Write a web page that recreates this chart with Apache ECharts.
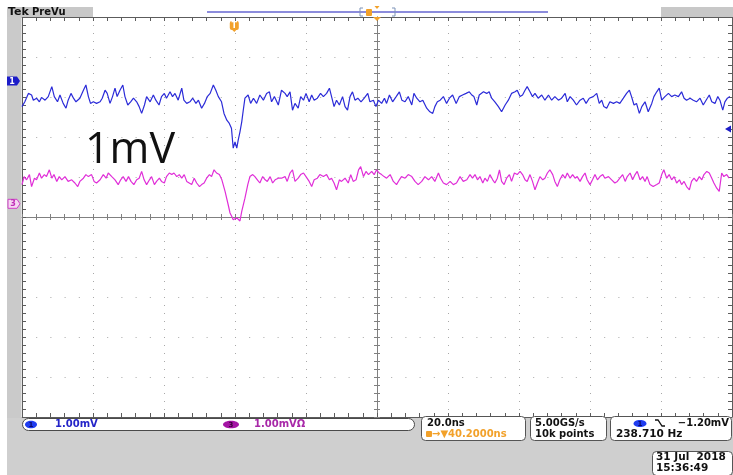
<!DOCTYPE html>
<html><head><meta charset="utf-8">
<script src="https://cdn.jsdelivr.net/npm/echarts@6/dist/echarts.min.js"></script>
<style>html,body{margin:0;padding:0;background:#fff}#c{width:733px;height:475px}</style>
</head><body><div id="c"></div>
<script>
// ---- scope settings ----
const timePerDivNs = 20;
const horizontalDelayNs = 40.2;
const voltsPerDivMv = 1;
const ch1PositionDiv = 3.4;
const ch3PositionDiv = 0.33;
const triggerLevelMv = -1.20;

// ---- channel 1 (blue): [time ns from trigger, mV from ch1 ground] ----
const ch1Samples = [
[-59.8,-0.64],[-59.0,-0.52],[-58.0,-0.31],[-57.1,-0.35],[-56.6,-0.48],[-55.7,-0.43],[-54.9,-0.52],[-54.3,-0.41],
[-53.3,-0.48],[-52.4,-0.39],[-51.4,-0.14],[-50.7,-0.39],[-49.8,-0.52],[-49.1,-0.35],[-48.2,-0.56],[-47.4,-0.68],
[-46.8,-0.48],[-46.0,-0.31],[-45.3,-0.43],[-44.6,-0.52],[-43.5,-0.43],[-42.5,-0.23],[-41.8,-0.10],[-41.1,-0.39],
[-40.5,-0.56],[-39.7,-0.52],[-38.8,-0.56],[-37.8,-0.52],[-37.2,-0.43],[-36.4,-0.23],[-35.8,-0.31],[-35.0,-0.56],
[-34.3,-0.39],[-33.6,-0.18],[-33.0,-0.39],[-32.2,-0.23],[-31.4,-0.10],[-30.8,-0.39],[-30.0,-0.60],[-29.2,-0.52],
[-28.4,-0.43],[-27.5,-0.52],[-26.8,-0.64],[-26.1,-0.81],[-25.3,-0.60],[-24.7,-0.39],[-23.7,-0.52],[-22.8,-0.35],
[-22.1,-0.48],[-21.2,-0.60],[-20.5,-0.39],[-19.7,-0.31],[-19.1,-0.43],[-18.1,-0.27],[-17.4,-0.39],[-16.7,-0.31],
[-15.8,-0.48],[-14.8,-0.18],[-14.2,-0.48],[-13.4,-0.56],[-12.5,-0.52],[-11.7,-0.43],[-10.8,-0.56],[-10.1,-0.48],
[-9.2,-0.68],[-8.4,-0.56],[-7.6,-0.39],[-6.8,-0.31],[-5.9,-0.10],[-5.2,-0.23],[-4.5,-0.39],[-3.6,-0.52],
[-2.9,-0.81],[-2.1,-0.98],[-1.4,-1.06],[-0.8,-1.18],[-0.3,-1.68],[0.2,-1.52],[0.7,-1.68],[1.1,-1.48],
[1.6,-1.27],[2.1,-1.02],[2.5,-0.75],[3.0,-0.43],[3.9,-0.35],[4.6,-0.56],[5.4,-0.43],[6.3,-0.56],
[7.2,-0.35],[8.2,-0.48],[9.1,-0.31],[9.9,-0.27],[10.5,-0.52],[11.3,-0.39],[12.4,-0.60],[13.3,-0.23],
[14.3,-0.31],[14.9,-0.39],[15.7,-0.27],[16.4,-0.73],[17.1,-0.56],[18.0,-0.68],[18.7,-0.39],[19.5,-0.48],
[20.2,-0.31],[21.1,-0.52],[21.8,-0.35],[22.5,-0.48],[23.4,-0.43],[24.3,-0.31],[25.1,-0.39],[26.0,-0.31],
[26.8,-0.18],[27.4,-0.39],[28.1,-0.64],[28.8,-0.48],[29.6,-0.60],[30.5,-0.39],[31.2,-0.64],[31.9,-0.73],
[32.6,-0.39],[33.3,-0.27],[34.0,-0.48],[34.8,-0.43],[35.7,-0.52],[36.6,-0.43],[37.6,-0.31],[38.2,-0.52],
[39.2,-0.48],[39.9,-0.64],[40.6,-0.48],[41.5,-0.56],[42.3,-0.43],[42.9,-0.56],[43.7,-0.35],[44.6,-0.52],
[45.6,-0.39],[46.5,-0.27],[47.2,-0.48],[48.1,-0.52],[49.0,-0.39],[50.0,-0.60],[50.6,-0.31],[51.4,-0.43],
[52.3,-0.52],[53.1,-0.48],[54.2,-0.68],[55.1,-0.77],[55.9,-0.81],[56.5,-0.64],[57.2,-0.52],[58.0,-0.48],
[58.9,-0.39],[59.8,-0.56],[60.6,-0.43],[61.5,-0.35],[62.5,-0.56],[63.4,-0.39],[64.3,-0.35],[65.3,-0.31],
[66.2,-0.27],[66.9,-0.35],[67.5,-0.39],[68.3,-0.60],[69.0,-0.35],[70.2,-0.27],[71.1,-0.31],[71.8,-0.27],
[72.5,-0.43],[73.4,-0.52],[74.4,-0.64],[75.3,-0.77],[76.3,-0.60],[77.2,-0.48],[78.1,-0.31],[79.1,-0.27],
[79.7,-0.23],[80.5,-0.39],[81.2,-0.35],[81.9,-0.23],[82.5,-0.14],[83.3,-0.27],[84.0,-0.39],[84.7,-0.31],
[85.6,-0.43],[86.6,-0.35],[87.5,-0.48],[88.5,-0.35],[89.4,-0.48],[90.3,-0.39],[91.3,-0.48],[92.2,-0.43],
[93.2,-0.31],[93.8,-0.52],[94.6,-0.39],[95.5,-0.48],[96.4,-0.60],[97.4,-0.48],[98.3,-0.43],[99.1,-0.56],
[100.0,-0.43],[101.1,-0.39],[102.1,-0.31],[102.8,-0.56],[103.5,-0.48],[104.1,-0.64],[104.9,-0.68],[105.8,-0.52],
[106.8,-0.56],[107.7,-0.52],[108.6,-0.56],[109.6,-0.43],[110.5,-0.31],[111.3,-0.23],[111.9,-0.39],[112.6,-0.60],
[113.3,-0.56],[114.1,-0.81],[114.8,-0.64],[115.7,-0.52],[116.6,-0.77],[117.6,-0.56],[118.2,-0.39],[119.0,-0.27],
[119.7,-0.18],[120.4,-0.48],[121.3,-0.39],[122.3,-0.31],[123.2,-0.39],[124.1,-0.35],[125.1,-0.39],[126.0,-0.27],
[126.7,-0.43],[127.4,-0.48],[128.4,-0.43],[129.3,-0.48],[130.2,-0.52],[131.2,-0.43],[132.1,-0.60],[132.9,-0.48],
[133.8,-0.35],[134.5,-0.52],[135.4,-0.56],[136.2,-0.39],[136.8,-0.48],[137.6,-0.73],[138.2,-0.52],[138.9,-0.43],
[139.6,-0.39]
];

// ---- channel 3 (magenta): [time ns from trigger, mV from ch3 ground] ----
const ch3Samples = [
[-59.8,0.48],[-59.2,0.68],[-58.5,0.60],[-57.7,0.73],[-57.1,0.43],[-56.3,0.64],[-55.7,0.60],[-54.9,0.77],
[-54.3,0.64],[-53.5,0.73],[-52.9,0.68],[-52.1,0.85],[-51.4,0.64],[-50.8,0.73],[-50.0,0.56],[-49.3,0.68],
[-48.6,0.60],[-47.7,0.68],[-46.8,0.56],[-45.8,0.60],[-44.9,0.52],[-44.1,0.43],[-43.5,0.56],[-42.5,0.64],
[-41.8,0.73],[-41.1,0.68],[-40.2,0.73],[-39.5,0.56],[-38.8,0.52],[-37.8,0.60],[-36.9,0.73],[-36.1,0.64],
[-35.5,0.77],[-34.5,0.68],[-33.6,0.60],[-32.7,0.48],[-32.0,0.60],[-31.3,0.68],[-30.5,0.56],[-29.8,0.68],
[-29.1,0.56],[-28.3,0.48],[-27.5,0.60],[-26.8,0.64],[-26.1,0.81],[-25.4,0.60],[-24.7,0.48],[-23.9,0.60],
[-23.3,0.68],[-22.5,0.48],[-21.9,0.56],[-21.1,0.64],[-20.5,0.56],[-19.7,0.52],[-19.1,0.68],[-18.3,0.77],
[-17.6,0.73],[-17.0,0.77],[-16.2,0.68],[-15.5,0.73],[-14.8,0.64],[-14.1,0.73],[-13.4,0.56],[-12.7,0.52],
[-12.0,0.48],[-11.3,0.64],[-10.6,0.52],[-9.8,0.43],[-9.2,0.48],[-8.5,0.52],[-7.8,0.64],[-7.0,0.73],
[-6.4,0.68],[-5.7,0.85],[-5.0,0.77],[-4.2,0.73],[-3.5,0.60],[-2.6,0.31],[-1.7,-0.03],[-1.2,-0.23],
[-0.7,-0.32],[-0.3,-0.40],[0.2,-0.44],[0.7,-0.35],[1.1,-0.36],[1.6,-0.43],[2.1,-0.19],[3.0,0.14],
[3.8,0.48],[4.4,0.68],[5.2,0.73],[5.8,0.68],[6.5,0.60],[7.2,0.52],[8.0,0.68],[8.7,0.60],
[9.3,0.56],[10.1,0.68],[10.8,0.52],[11.5,0.60],[12.4,0.64],[13.3,0.64],[14.3,0.68],[14.9,0.56],
[15.7,0.77],[16.4,0.85],[17.1,0.56],[18.0,0.64],[18.7,0.73],[19.5,0.77],[20.2,0.68],[21.1,0.56],
[21.8,0.43],[22.5,0.60],[23.4,0.64],[24.1,0.73],[25.1,0.68],[26.0,0.73],[26.8,0.60],[27.4,0.64],
[28.1,0.52],[28.8,0.35],[29.6,0.60],[30.2,0.56],[31.2,0.64],[32.1,0.52],[32.8,0.73],[33.5,0.56],
[34.3,0.60],[35.0,0.85],[35.6,0.93],[36.4,0.68],[37.1,0.81],[37.8,0.73],[38.7,0.81],[39.4,0.73],
[40.1,0.85],[40.8,0.77],[41.5,0.73],[42.2,0.68],[42.9,0.64],[43.9,0.73],[44.8,0.56],[45.7,0.48],
[46.5,0.60],[47.1,0.68],[48.1,0.64],[49.0,0.73],[50.0,0.68],[50.9,0.56],[51.8,0.48],[52.8,0.56],
[53.7,0.68],[54.7,0.60],[55.6,0.68],[56.5,0.56],[57.5,0.77],[58.1,0.64],[58.9,0.52],[59.8,0.48],
[60.8,0.56],[61.7,0.48],[62.6,0.52],[63.6,0.68],[64.5,0.56],[65.5,0.60],[66.4,0.73],[67.1,0.64],
[67.8,0.73],[68.5,0.60],[69.2,0.68],[70.0,0.52],[70.6,0.64],[71.3,0.56],[72.0,0.73],[72.8,0.60],
[73.4,0.52],[74.1,0.64],[74.7,0.85],[75.3,0.56],[76.0,0.48],[76.7,0.64],[77.5,0.73],[78.1,0.56],
[78.9,0.77],[79.7,0.73],[80.5,0.81],[81.2,0.73],[81.9,0.60],[82.5,0.56],[83.3,0.73],[84.0,0.56],
[84.7,0.35],[85.4,0.52],[86.1,0.68],[86.9,0.60],[87.5,0.64],[88.2,0.77],[88.9,0.85],[89.7,0.73],
[90.3,0.56],[91.0,0.43],[91.7,0.60],[92.5,0.73],[93.2,0.64],[93.8,0.77],[94.6,0.64],[95.3,0.73],
[96.0,0.64],[96.6,0.68],[97.4,0.56],[98.1,0.68],[98.8,0.77],[99.4,0.60],[100.2,0.48],[100.9,0.60],
[101.6,0.73],[102.3,0.60],[103.0,0.68],[103.8,0.73],[104.4,0.64],[105.4,0.68],[106.3,0.60],[107.2,0.52],
[107.9,0.56],[108.6,0.64],[109.4,0.73],[110.1,0.56],[110.7,0.68],[111.5,0.77],[112.2,0.60],[112.9,0.73],
[113.5,0.81],[114.3,0.60],[115.0,0.68],[115.7,0.56],[116.3,0.68],[117.1,0.48],[118.0,0.43],[119.0,0.48],
[119.7,0.52],[120.4,0.73],[121.0,0.85],[121.8,0.64],[122.5,0.73],[123.2,0.60],[123.9,0.68],[124.6,0.52],
[125.4,0.60],[126.0,0.48],[126.7,0.56],[127.4,0.43],[128.2,0.35],[128.8,0.56],[129.5,0.64],[130.2,0.56],
[131.0,0.68],[131.7,0.60],[132.3,0.73],[133.1,0.81],[133.8,0.77],[134.5,0.64],[135.1,0.52],[135.9,0.39],
[136.6,0.31],[137.3,0.77],[137.9,0.68],[138.7,0.73],[139.4,0.64]
];

// ---- readout texts ----
const ch1ScaleText = '1.00mV';
const ch3ScaleText = '1.00mVΩ';
const timebaseText = '20.0ns';
const delayText = '→▼40.2000ns';
const sampleRateText = '5.00GS/s';
const recordText = '10k points';
const triggerText = '−1.20mV';
const freqText = '238.710 Hz';
const dateText = '31 Jul  2018';
const clockText = '15:36:49';
const annotationText = '1mV';

// ---- layout ----
const GL = 22, GT = 17, GW = 710, GH = 400;
const DIVS = 10;
const xMin = horizontalDelayNs - (DIVS / 2) * timePerDivNs;
const xMax = horizontalDelayNs + (DIVS / 2) * timePerDivNs;
const frame = '#5c5c5c';
const centerCol = '#808080';
const dotCol = '#a8a8a8';
const F = 'DejaVu Sans, sans-serif';

function hAxis(position, inside, offset, split) {
  return {
    type: 'value', min: xMin, max: xMax, interval: timePerDivNs, position: position, offset: offset,
    axisLine: { show: true, onZero: false, lineStyle: { color: offset ? centerCol : frame, width: 1 } },
    axisTick: { show: true, inside: inside, length: offset ? 3 : 4, lineStyle: { color: offset ? centerCol : frame } },
    minorTick: { show: true, splitNumber: 5, length: offset ? 3 : 4, lineStyle: { color: offset ? centerCol : frame } },
    axisLabel: { show: false },
    splitLine: { show: split, lineStyle: { color: dotCol, type: [1, 7], width: 1 } }
  };
}
function vAxis(position, inside, offset, split) {
  return {
    type: 'value', min: -DIVS / 2, max: DIVS / 2, interval: 1, position: position, offset: offset,
    axisLine: { show: true, onZero: false, lineStyle: { color: offset ? centerCol : frame, width: 1 } },
    axisTick: { show: true, inside: inside, length: offset ? 3 : 4, lineStyle: { color: offset ? centerCol : frame } },
    minorTick: { show: true, splitNumber: 5, length: offset ? 3 : 4, lineStyle: { color: offset ? centerCol : frame } },
    axisLabel: { show: false },
    splitLine: { show: split, lineStyle: { color: dotCol, type: [1, 13.2], width: 1 } }
  };
}
function chAxis(posDiv) {
  return { type: 'value', show: false,
    min: (-DIVS / 2 - posDiv) * voltsPerDivMv, max: (DIVS / 2 - posDiv) * voltsPerDivMv };
}

const chart = echarts.init(document.getElementById('c'), null, { renderer: 'canvas' });
chart.setOption({
  animation: false,
  backgroundColor: '#ffffff',
  grid: { left: GL, top: GT, width: GW, height: GH, containLabel: false },
  xAxis: [
    hAxis('bottom', true, 0, true),
    hAxis('top', true, 0, false),
    hAxis('bottom', true, -GH / 2, false),
    hAxis('bottom', false, -GH / 2, false)
  ],
  yAxis: [
    vAxis('left', true, 0, true),
    vAxis('right', true, 0, false),
    vAxis('left', true, -GW / 2, false),
    vAxis('left', false, -GW / 2, false),
    chAxis(ch1PositionDiv),
    chAxis(ch3PositionDiv)
  ],
  series: [
    { type: 'line', name: 'CH1', xAxisIndex: 0, yAxisIndex: 4, data: ch1Samples,
      symbol: 'none', showSymbol: false, clip: true, z: 5,
      lineStyle: { color: '#2b2bd8', width: 1.2 } },
    { type: 'line', name: 'CH3', xAxisIndex: 0, yAxisIndex: 5, data: ch3Samples,
      symbol: 'none', showSymbol: false, clip: true, z: 5,
      lineStyle: { color: '#e02ed8', width: 1.2 } }
  ]
});

// ---- scope chrome / markers placed via the axes ----
const trigX = chart.convertToPixel({ xAxisIndex: 0 }, 0);
const centerX = chart.convertToPixel({ xAxisIndex: 0 }, horizontalDelayNs);
const ch1Y = chart.convertToPixel({ yAxisIndex: 4 }, 0);
const ch3Y = chart.convertToPixel({ yAxisIndex: 5 }, 0);
const trigLevelY = chart.convertToPixel({ yAxisIndex: 4 }, triggerLevelMv);

function txt(text, x, y, font, fill, align, z) {
  return { type: 'text', x: x, y: y, z: z || 20,
    style: { text: text, font: font, fill: fill, textAlign: align || 'left', textVerticalAlign: 'middle',
             align: align || 'left', verticalAlign: 'middle' } };
}
function rect(x, y, w, h, fill, stroke, r, z) {
  return { type: 'rect', z: z || 10, shape: { x: x, y: y, width: w, height: h, r: r || 0 },
    style: { fill: fill, stroke: stroke || null, lineWidth: 1 } };
}
function line(x1, y1, x2, y2, col, w, z) {
  return { type: 'line', z: z || 12, shape: { x1: x1, y1: y1, x2: x2, y2: y2 }, style: { stroke: col, lineWidth: w || 1 } };
}
function poly(points, fill, stroke, z) {
  return { type: 'polygon', z: z || 15, shape: { points: points }, style: { fill: fill, stroke: stroke || null, lineWidth: 1 } };
}
function ell(cx, cy, rx, ry, fill, z) {
  return { type: 'ellipse', z: z || 15, shape: { cx: cx, cy: cy, rx: rx, ry: ry }, style: { fill: fill } };
}

const orange = '#f2a12a';
const g = [];
// side and bottom grey panels
g.push(rect(7, GT, 14.5, 475 - GT, '#cacaca', null, 0, 1));
g.push(rect(7, GT + GH + 1, 726, 475 - GT - GH - 1, '#cfcfcf', null, 0, 1));
// top bar
g.push(rect(7, 7, 86, 10, '#c8c8c8', null, 0, 2));
g.push(rect(661, 7, 72, 10, '#c8c8c8', null, 0, 2));
g.push(txt('Tek', 8, 12.5, 'bold 11px ' + F, '#111'));
g.push(txt('PreVu', 32, 12.5, 'bold 10px ' + F, '#111'));
g.push(line(207, 12, 548, 12, '#8c8cdc', 2, 5));
g.push(line(360, 8, 360, 16, '#7d93b8', 1, 6)); g.push(line(360, 8, 363, 8, '#7d93b8', 1, 6)); g.push(line(360, 16, 363, 16, '#7d93b8', 1, 6));
g.push(line(395, 8, 395, 16, '#7d93b8', 1, 6)); g.push(line(392, 8, 395, 8, '#7d93b8', 1, 6)); g.push(line(392, 16, 395, 16, '#7d93b8', 1, 6));
g.push(rect(366, 9, 6, 7, orange, null, 1, 7));
g.push(poly([[centerX - 4, GT], [centerX + 4, GT], [centerX, GT + 4]], orange, null, 21));
g.push(poly([[centerX - 2.5, 6], [centerX + 2.5, 6], [centerX, 9]], orange, null, 21));
// trigger position marker
g.push(rect(trigX - 4.5, 21, 9, 9, orange, null, 2, 21));
g.push(txt('T', trigX, 25.5, 'bold 8px ' + F, '#fff', 'center', 22));
g.push(poly([[trigX - 2, 30], [trigX + 2, 30], [trigX, 32]], orange, null, 21));
// channel ground markers
g.push(poly([[7, ch1Y - 4.5], [17, ch1Y - 4.5], [20, ch1Y], [17, ch1Y + 4.5], [7, ch1Y + 4.5]], '#1c1cc8', null, 21));
g.push(txt('1', 12, ch1Y + 0.5, 'bold 8px ' + F, '#ffffff', 'center', 22));
g.push(poly([[8, ch3Y - 4.5], [17, ch3Y - 4.5], [20, ch3Y], [17, ch3Y + 4.5], [8, ch3Y + 4.5]], '#f6d6f2', '#d040c8', 21));
g.push(txt('3', 13, ch3Y + 0.5, 'bold 8px ' + F, '#c030b8', 'center', 22));
// trigger level arrow (right)
g.push(poly([[725, trigLevelY], [731, trigLevelY - 3.5], [731, trigLevelY + 3.5]], '#1c1cc8', null, 21));
// annotation
g.push(txt(annotationText, 85, 151, '43px "Open Sans", "Liberation Sans", sans-serif', '#111', 'left', 25));
// status bar
g.push(rect(22.5, 418.5, 392, 12, '#ffffff', '#4a4a4a', 6, 10));
g.push(ell(31, 424.5, 6, 3.8, '#1f3cf0'));
g.push(txt('1', 31, 425, 'bold 7px ' + F, '#0a0a6a', 'center'));
g.push(txt(ch1ScaleText, 55, 424.5, 'bold 10px ' + F, '#2424c8'));
g.push(ell(231, 424.5, 8, 3.8, '#a414a4'));
g.push(txt('3', 231, 425, 'bold 7px ' + F, '#3a003a', 'center'));
g.push(txt(ch3ScaleText, 254, 424.5, 'bold 10px ' + F, '#a828a8'));
// timebase box
g.push(rect(421.5, 416.5, 104, 24, '#ffffff', '#555', 4, 10));
g.push(txt(timebaseText, 427, 423.5, 'bold 10px ' + F, '#111'));
g.push(rect(426, 431, 6, 6, orange, null, 1, 15));
g.push(txt(delayText, 432, 434.5, 'bold 10px ' + F, orange));
// acquisition box
g.push(rect(530.5, 416.5, 76, 24, '#ffffff', '#555', 4, 10));
g.push(txt(sampleRateText, 535, 423.5, 'bold 10px ' + F, '#111'));
g.push(txt(recordText, 535, 434.5, 'bold 10px ' + F, '#111'));
// trigger box
g.push(rect(610.5, 416.5, 121, 24, '#ffffff', '#555', 4, 10));
g.push(ell(640, 423.5, 6.5, 3.6, '#1f3cf0'));
g.push(txt('1', 640, 424, 'bold 7px ' + F, '#0a0a6a', 'center'));
g.push({ type: 'polyline', z: 15, shape: { points: [[655, 420], [658, 420], [662, 426], [665, 426]] }, style: { stroke: '#111', lineWidth: 1.3, fill: null } });
g.push(txt(triggerText, 729, 423.5, 'bold 10px ' + F, '#111', 'right'));
g.push(txt(freqText, 616, 434.5, 'bold 10.5px ' + F, '#111'));
// date box
g.push(rect(652.5, 451.5, 80, 24, '#ffffff', '#555', 4, 10));
g.push(txt(dateText, 656, 457.5, 'bold 10.5px ' + F, '#111'));
g.push(txt(clockText, 656, 468.5, 'bold 10.5px ' + F, '#111'));

chart.setOption({ graphic: { elements: g } });
</script></body></html>
